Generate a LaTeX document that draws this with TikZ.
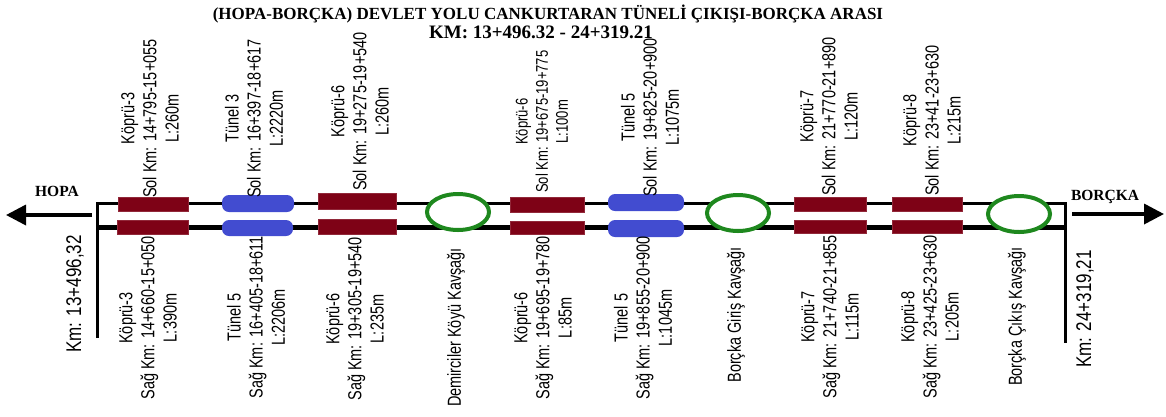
\documentclass[tikz,border=0pt]{standalone}
\usepackage{fontspec}
\setmainfont{Liberation Sans}
\newfontfamily\tms{Liberation Serif}
\usetikzlibrary{shapes.geometric,arrows.meta}
\definecolor{bridgec}{RGB}{126,2,22}
\definecolor{tunc}{RGB}{66,76,208}
\definecolor{juncc}{RGB}{30,136,30}
\begin{document}
\begin{tikzpicture}[x=1pt,y=-1pt,
  lbl/.style={rotate=90, yscale=1.3, align=center, inner sep=0pt, font=\fontsize{14.5}{17}\selectfont},
  lblsmall/.style={rotate=90, yscale=1.3, align=center, inner sep=0pt, font=\fontsize{13}{15.5}\selectfont},
  kmlbl/.style={rotate=90, yscale=1.25, inner sep=0pt, font=\fontsize{17}{20}\selectfont},
  bridge/.style={fill=bridgec, draw=bridgec!85!white, line width=0.6pt, inner sep=0pt},
  tunnel/.style={fill=tunc, rounded corners=7pt, inner sep=0pt},
  junc/.style={ellipse, draw=juncc, fill=white, line width=4pt, inner sep=0pt, minimum width=62pt, minimum height=36pt},
  roadthin/.style={line width=3pt},
  roadthick/.style={line width=5pt},
  dirarrow/.style={line width=3.5pt, -{Triangle[length=20pt,width=20pt]}},
  city/.style={font=\tms\bfseries\fontsize{15.5}{18}\selectfont, inner sep=0pt}
]
\useasboundingbox (0,0) rectangle (1166,416);

% title
\node[font=\tms\bfseries\fontsize{17}{18}\selectfont, inner sep=0pt] (title) at (548,14)
  {(HOPA-BORÇKA) DEVLET YOLU CANKURTARAN TÜNELİ ÇIKIŞI-BORÇKA ARASI};
\node[font=\tms\bfseries\fontsize{19}{20}\selectfont, inner sep=0pt] (title2) at (541,32)
  {KM: 13+496.32 - 24+319.21};

% road frame
\coordinate (tl) at (97,203);
\coordinate (tr) at (1065,203);
\coordinate (bl) at (97,227);
\coordinate (br) at (1065,227);
\coordinate (lend) at (97,338);
\coordinate (rend) at (1065,343);
\draw[roadthin] (lend) -- ([yshift=-1.5pt]tl) -- (tl) -- (tr) -- ([yshift=-1.5pt]tr) -- (rend);
\draw[roadthick] (bl) -- (br);

% direction arrows
\coordinate (la0) at (92,215);
\coordinate (la1) at (6,215);
\coordinate (ra0) at (1072,214);
\coordinate (ra1) at (1164,214);
\draw[dirarrow] (la0) -- (la1);
\draw[dirarrow] (ra0) -- (ra1);
\node[city] (hopa) at (57,191) {HOPA};
\node[city] (borcka) at (1105,197) {BORÇKA};

% km labels
\node[kmlbl, anchor=east] (kml) at (75,235) {Km: 13+496,32};
\node[kmlbl, anchor=east] (kmr) at (1085,250) {Km: 24+319,21};

% structures: Köprü-3
\node[bridge, minimum width=70pt, minimum height=14pt] (k3t) at (153,204) {};
\node[bridge, minimum width=71pt, minimum height=14pt] (k3b) at (152.5,227) {};
% Tünel 3 / 5
\node[tunnel, minimum width=72pt, minimum height=17pt] (t3t) at (258,203.5) {};
\node[tunnel, minimum width=71pt, minimum height=16pt] (t3b) at (257.5,228) {};
% Köprü-6
\node[bridge, minimum width=78pt, minimum height=16pt] (k6t) at (357,201) {};
\node[bridge, minimum width=78pt, minimum height=15pt] (k6b) at (357,226.5) {};
% Demirciler
\node[junc] (dem) at (458,212) {};
% Köprü-6 (2)
\node[bridge, minimum width=74pt, minimum height=15pt] (k6bt) at (547,204.5) {};
\node[bridge, minimum width=74pt, minimum height=13pt] (k6bb) at (547,227.5) {};
% Tünel 5
\node[tunnel, minimum width=76pt, minimum height=17pt] (t5t) at (646,202.5) {};
\node[tunnel, minimum width=76pt, minimum height=17pt] (t5b) at (646,228.5) {};
% Borçka Giriş
\node[junc] (gir) at (738,213) {};
% Köprü-7
\node[bridge, minimum width=72pt, minimum height=14pt] (k7t) at (830,204) {};
\node[bridge, minimum width=72pt, minimum height=13pt] (k7b) at (830,226.5) {};
% Köprü-8
\node[bridge, minimum width=70pt, minimum height=14pt] (k8t) at (927,204) {};
\node[bridge, minimum width=70pt, minimum height=13pt] (k8b) at (927,226.5) {};
% Borçka Çıkış
\node[junc] (cik) at (1019,214) {};

% top labels
\node[lbl, anchor=west] (k3tl) at (150,198) {Köprü-3\\Sol Km: 14+795-15+055\\L:260m};
\node[lbl, anchor=west] (t3tl) at (254,198) {Tünel 3\\Sol Km: 16+397-18+617\\L:2220m};
\node[lbl, anchor=west] (k6tl) at (360,191) {Köprü-6\\Sol Km: 19+275-19+540\\L:260m};
\node[lblsmall, anchor=west] (k6btl) at (542,193) {Köprü-6\\Sol Km: 19+675-19+775\\L:100m};
\node[lbl, anchor=west] (t5tl) at (650,197) {Tünel 5\\Sol Km: 19+825-20+900\\L:1075m};
\node[lbl, anchor=west] (k7tl) at (829,196) {Köprü-7\\Sol Km: 21+770-21+890\\L:120m};
\node[lbl, anchor=west] (k8tl) at (932,196) {Köprü-8\\Sol Km: 23+41-23+630\\L:215m};

% bottom labels
\node[lbl, anchor=east] (k3bl) at (148,236) {Köprü-3\\Sağ Km: 14+660-15+050\\L:390m};
\node[lbl, anchor=east] (t3bl) at (256,236) {Tünel 5\\Sağ Km: 16+405-18+611\\L:2206m};
\node[lbl, anchor=east] (k6bl) at (355,237) {Köprü-6\\Sağ Km: 19+305-19+540\\L:235m};
\node[lbl, anchor=east] (deml) at (456,248) {Demirciler Köyü Kavşağı};
\node[lbl, anchor=east] (k6bbl) at (543,236) {Köprü-6\\Sağ Km: 19+695-19+780\\L:85m};
\node[lbl, anchor=east] (t5bl) at (643,236) {Tünel 5\\Sağ Km: 19+855-20+900\\L:1045m};
\node[lbl, anchor=east] (girl) at (736,247) {Borçka Giriş Kavşağı};
\node[lbl, anchor=east] (k7bl) at (830,235) {Köprü-7\\Sağ Km: 21+740-21+855\\L:115m};
\node[lbl, anchor=east] (k8bl) at (930,235) {Köprü-8\\Sağ Km: 23+425-23+630\\L:205m};
\node[lbl, anchor=east] (cikl) at (1017,247) {Borçka Çıkış Kavşağı};
\end{tikzpicture}
\end{document}
